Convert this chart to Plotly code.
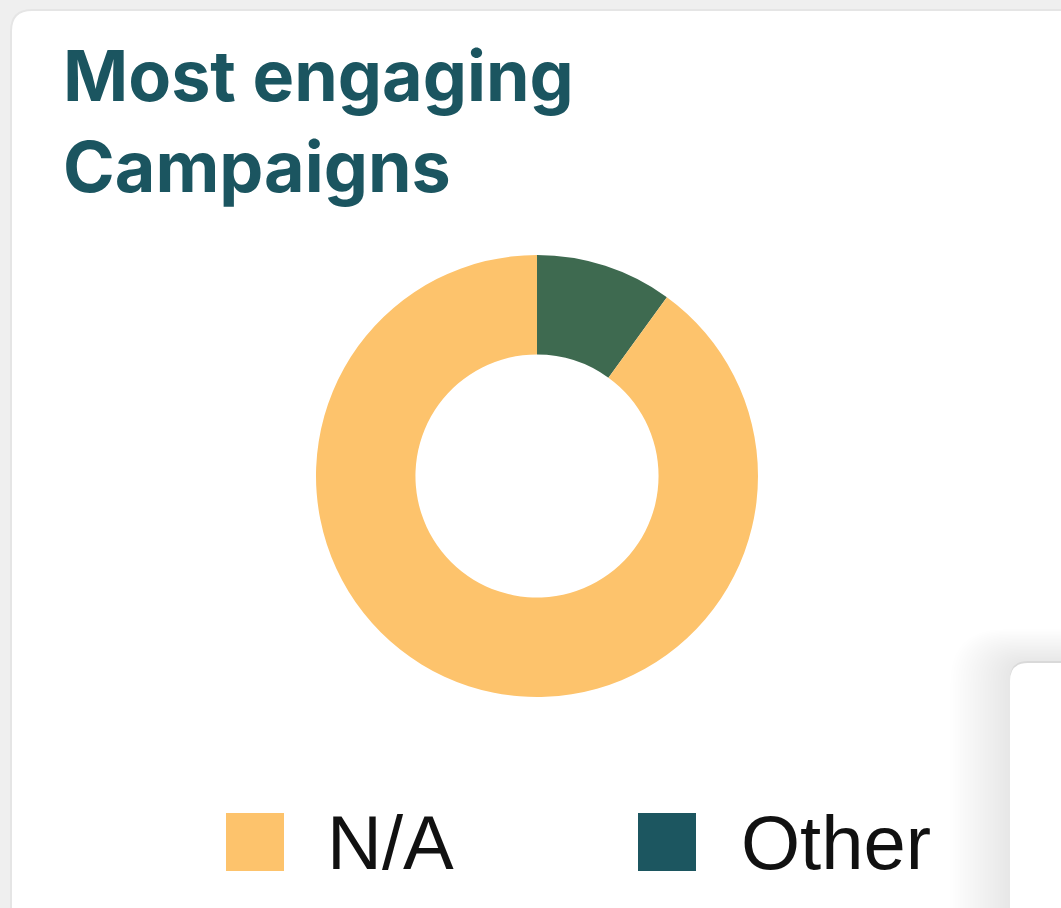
import plotly.graph_objects as go

W, H = 1061, 908

labels = ["Other", "N/A"]
values = [10, 90]
slice_colors = ["#3E6A50", "#FDC36C"]
legend_labels = ["N/A", "Other"]
legend_colors = ["#FDC36C", "#1C5660"]
title_text = "Most engaging<br>Campaigns"


def px(x):
    return x / W


def py(y):
    return 1 - y / H


def rounded_rect(x0, y0, x1, y1, r):
    return (f"M {px(x0)} {py(y0 + r)} "
            f"Q {px(x0)} {py(y0)} {px(x0 + r)} {py(y0)} "
            f"L {px(x1 - r)} {py(y0)} "
            f"Q {px(x1)} {py(y0)} {px(x1)} {py(y0 + r)} "
            f"L {px(x1)} {py(y1 - r)} "
            f"Q {px(x1)} {py(y1)} {px(x1 - r)} {py(y1)} "
            f"L {px(x0 + r)} {py(y1)} "
            f"Q {px(x0)} {py(y1)} {px(x0)} {py(y1 - r)} Z")


fig = go.Figure()

fig.add_trace(go.Pie(
    labels=labels,
    values=values,
    hole=0.55,
    sort=False,
    direction="clockwise",
    rotation=0,
    marker=dict(colors=slice_colors, line=dict(width=0)),
    textinfo="none",
    hoverinfo="label+percent",
    showlegend=False,
    domain=dict(x=[px(316), px(758)], y=[py(697), py(255)]),
))

shapes = []
# main card shadow + card
shapes.append(dict(type="path", xref="paper", yref="paper", layer="below",
                   path=rounded_rect(10, 9, W + 40, H + 40, 22),
                   fillcolor="rgba(0,0,0,0.04)", line=dict(width=0)))
shapes.append(dict(type="path", xref="paper", yref="paper", layer="below",
                   path=rounded_rect(12, 11, W + 40, H + 40, 20),
                   fillcolor="#FFFFFF", line=dict(width=0)))

# second card (bottom-right) with soft shadow
n = 24
for i in range(n):
    off = 60 * (1 - i / n)
    shapes.append(dict(type="path", xref="paper", yref="paper", layer="below",
                       path=rounded_rect(1010 - off, 662 - off * 0.55, W + 80, H + 80, 18 + off * 0.6),
                       fillcolor="rgba(0,0,0,0.0035)", line=dict(width=0)))
shapes.append(dict(type="path", xref="paper", yref="paper", layer="below",
                   path=rounded_rect(1010, 661, W + 40, H + 40, 18),
                   fillcolor="rgba(0,0,0,0.06)", line=dict(width=0)))
shapes.append(dict(type="path", xref="paper", yref="paper", layer="below",
                   path=rounded_rect(1010, 663, W + 40, H + 40, 18),
                   fillcolor="#FFFFFF", line=dict(width=0)))

# legend squares
legend_sq_x = [226, 638]
legend_txt_x = [325, 739]
for sx, c in zip(legend_sq_x, legend_colors):
    shapes.append(dict(type="rect", xref="paper", yref="paper",
                       x0=px(sx), x1=px(sx + 58), y0=py(871), y1=py(813),
                       fillcolor=c, line=dict(width=0)))

annotations = [
    dict(text=title_text, xref="paper", yref="paper",
         x=px(61), y=py(31), xanchor="left", yanchor="top", align="left",
         showarrow=False,
         font=dict(family="Inter", size=70, color="#1B5560", weight=700)),
]
for tx, lab in zip(legend_txt_x, legend_labels):
    annotations.append(dict(text=lab, xref="paper", yref="paper",
                            x=px(tx), y=py(842), xanchor="left", yanchor="middle",
                            showarrow=False,
                            font=dict(family="Liberation Sans", size=76, color="#111111")))

fig.update_layout(
    width=W, height=H,
    margin=dict(l=0, r=0, t=0, b=0),
    paper_bgcolor="#EFEFEF",
    plot_bgcolor="#EFEFEF",
    shapes=shapes,
    annotations=annotations,
)

fig.write_html("out.html", config={"displayModeBar": False})
